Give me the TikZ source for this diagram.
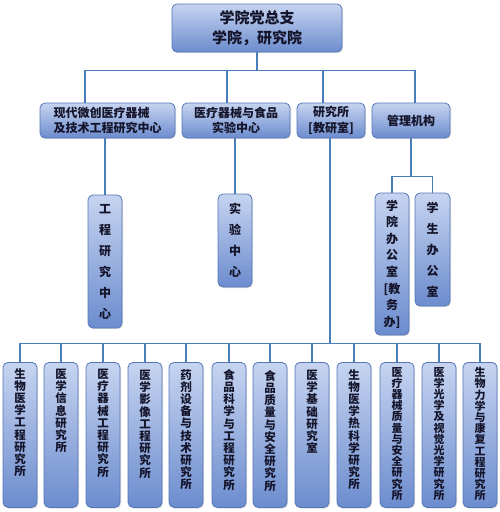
\documentclass[tikz,border=0pt]{standalone}
\usepackage{fontspec}
\setmainfont{Noto Sans CJK SC}
\usetikzlibrary{shadows}
\definecolor{ln}{HTML}{4A7EBB}
\definecolor{bd}{HTML}{5577B8}
\definecolor{tp}{HTML}{C6D4F0}
\definecolor{bt}{HTML}{6C8CCE}
\definecolor{tx}{HTML}{14142A}
\begin{document}
\begin{tikzpicture}[x=1pt,y=-1pt,
  box/.style={draw=bd, line width=0.8pt, rounded corners=5pt, top color=tp, bottom color=bt,
    text=tx, inner sep=0pt, align=center,
    drop shadow={opacity=0.25, shadow xshift=1pt, shadow yshift=-1.2pt}},
  hbox/.style={box, minimum height=35pt, font=\bfseries\fontsize{12}{15.5}\selectfont},
  vbox/.style={box, minimum width=34pt},
  pbox/.style={box, minimum width=34pt, minimum height=145pt, anchor=north},
  ptext/.style={anchor=north, inner sep=0pt, align=center, text=tx, font=\bfseries\fontsize{11.5}{12.2}\selectfont},
  ptextb/.style={ptext, font=\bfseries\fontsize{11}{11.2}\selectfont},
  conn/.style={draw=ln, line width=1.3pt}]
\useasboundingbox (0,0) rectangle (500,512);

% top
\node[box, minimum width=170pt, minimum height=48pt, font=\bfseries\fontsize{15}{20}\selectfont] (top) at (257,28) {学院党总支\\学院，研究院};

% second level
\node[hbox, minimum width=135pt, align=left] (m1) at (107.5,120.5) {现代微创医疗器械\\及技术工程研究中心};
\node[hbox, minimum width=108pt] (m2) at (236,120.5) {医疗器械与食品\\实验中心};
\node[hbox, minimum width=68pt] (m3) at (331,120.5) {研究所\\{[}教研室{]}};
\node[hbox, minimum width=78pt] (m4) at (411,120.5) {管理机构};

% vertical boxes
\node[vbox, minimum height=133pt, font=\bfseries\fontsize{12}{21}\selectfont] (v1) at (105,261.5) {工\\程\\研\\究\\中\\心};
\node[vbox, minimum height=93pt, font=\bfseries\fontsize{12}{21}\selectfont] (v2) at (235,240.5) {实\\验\\中\\心};
\node[vbox, minimum height=142pt, font=\bfseries\fontsize{12}{16.6}\selectfont] (v3) at (392,264) {学\\院\\办\\公\\室\\{[}教\\务\\办{]}};
\node[vbox, minimum width=35pt, minimum height=113pt, font=\bfseries\fontsize{12}{21}\selectfont] (v4) at (432.5,249.5) {学\\生\\办\\公\\室};

% bottom boxes
\node[pbox] (p1) at (20,362) {};
\node[pbox] (p2) at (61,362) {};
\node[pbox] (p3) at (103,362) {};
\node[pbox] (p4) at (145,362) {};
\node[pbox] (p5) at (186,362) {};
\node[pbox] (p6) at (229,362) {};
\node[pbox] (p7) at (270,362) {};
\node[pbox] (p8) at (312,362) {};
\node[pbox] (p9) at (354,362) {};
\node[pbox] (p10) at (397,362) {};
\node[pbox] (p11) at (439,362) {};
\node[pbox] (p12) at (480,362) {};

\node[ptext] (t1) at ([yshift=-6pt]p1.north) {生\\物\\医\\学\\工\\程\\研\\究\\所};
\node[ptext] (t2) at ([yshift=-7pt]p2.north) {医\\学\\信\\息\\研\\究\\所};
\node[ptext] (t3) at ([yshift=-7pt]p3.north) {医\\疗\\器\\械\\工\\程\\研\\究\\所};
\node[ptext] (t4) at ([yshift=-8pt]p4.north) {医\\学\\影\\像\\工\\程\\研\\究\\所};
\node[ptext] (t5) at ([yshift=-7pt]p5.north) {药\\剂\\设\\备\\与\\技\\术\\研\\究\\所};
\node[ptext] (t6) at ([yshift=-7pt]p6.north) {食\\品\\科\\学\\与\\工\\程\\研\\究\\所};
\node[ptext] (t7) at ([yshift=-8pt]p7.north) {食\\品\\质\\量\\与\\安\\全\\研\\究\\所};
\node[ptext] (t8) at ([yshift=-8pt]p8.north) {医\\学\\基\\础\\研\\究\\室};
\node[ptext] (t9) at ([yshift=-7pt]p9.north) {生\\物\\医\\学\\热\\科\\学\\研\\究\\所};
\node[ptextb] (t10) at ([yshift=-5pt]p10.north) {医\\疗\\器\\械\\质\\量\\与\\安\\全\\研\\究\\所};
\node[ptextb] (t11) at ([yshift=-5pt]p11.north) {医\\学\\光\\学\\及\\视\\觉\\光\\学\\研\\究\\所};
\node[ptextb] (t12) at ([yshift=-5pt]p12.north) {生\\物\\力\\学\\与\\康\\复\\工\\程\\研\\究\\所};

% connectors
\draw[conn] (top.south) -- ++(0,18) coordinate (bus1);
\draw[conn] ([xshift=-22.5pt]m1.north) |- (bus1);
\draw[conn] ([xshift=-9pt]m2.north) |- (bus1);
\draw[conn] ([xshift=-8pt]m3.north) |- (bus1);
\draw[conn] ([xshift=4pt]m4.north) |- (bus1);

\draw[conn] (v1.north) -- (v1.north |- m1.south);
\draw[conn] (v2.north) -- (v2.north |- m2.south);

\draw[conn] (m4.south) -- ++(0,38) coordinate (bus2);
\draw[conn] (v3.north) |- (bus2);
\draw[conn] (v4.north) |- (bus2);

\draw[conn] ([xshift=-1pt]m3.south) -- ++(0,205) coordinate (bus3);
\foreach \k in {1,...,12} {
  \draw[conn] (p\k.north) |- (bus3);
}
\end{tikzpicture}
\end{document}
